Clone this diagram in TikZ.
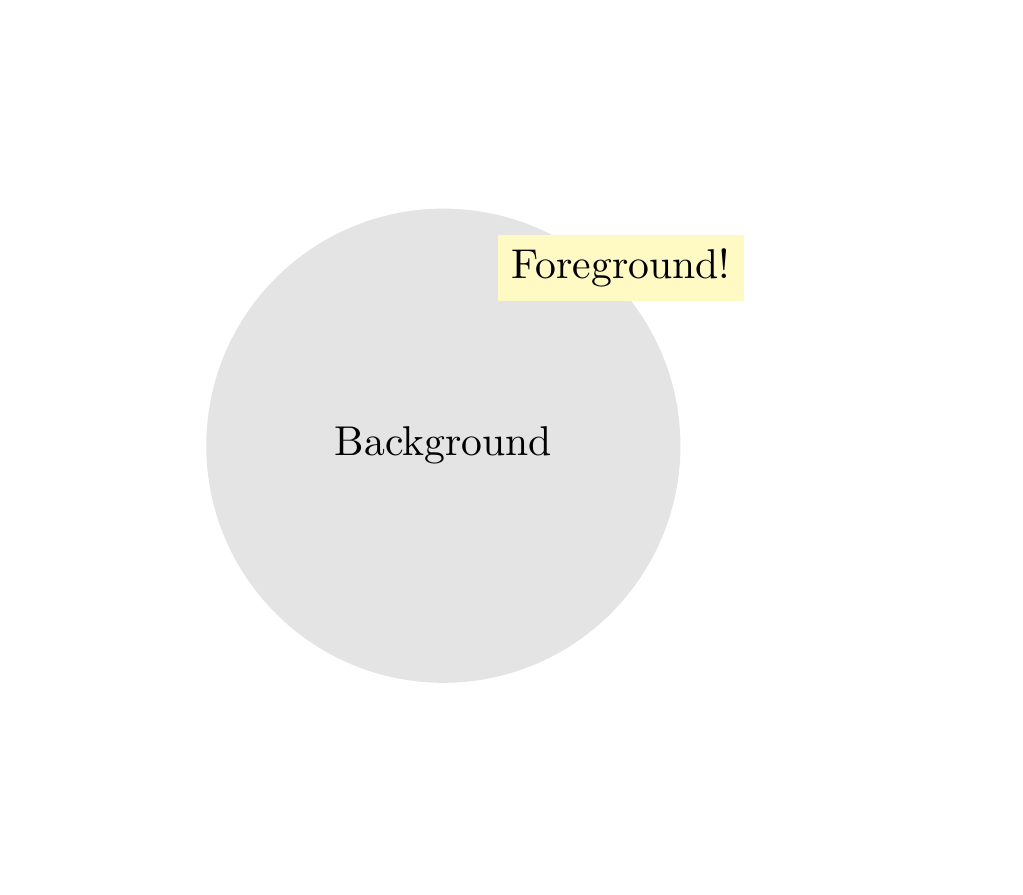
\documentclass[tikz,border=0pt]{standalone}
\usetikzlibrary{backgrounds}
\definecolor{fgyellow}{HTML}{FFF9C4}
\definecolor{bggray}{HTML}{E4E4E4}

\begin{document}
\begin{tikzpicture}[bgdisc/.style={circle, fill=bggray, minimum size=4cm},
                    fgbox/.style={rectangle, fill=fgyellow}]

    \useasboundingbox (-3.74,-3.79) rectangle (4.89,3.76);

    \node [fgbox] (fg) at (1.5 , 1.5) {Foreground!};
  \begin{pgfonlayer}{background}
    \node [bgdisc] (bg) at (0 , 0) {Background};
  \end{pgfonlayer}
\end{tikzpicture}
\end{document}
